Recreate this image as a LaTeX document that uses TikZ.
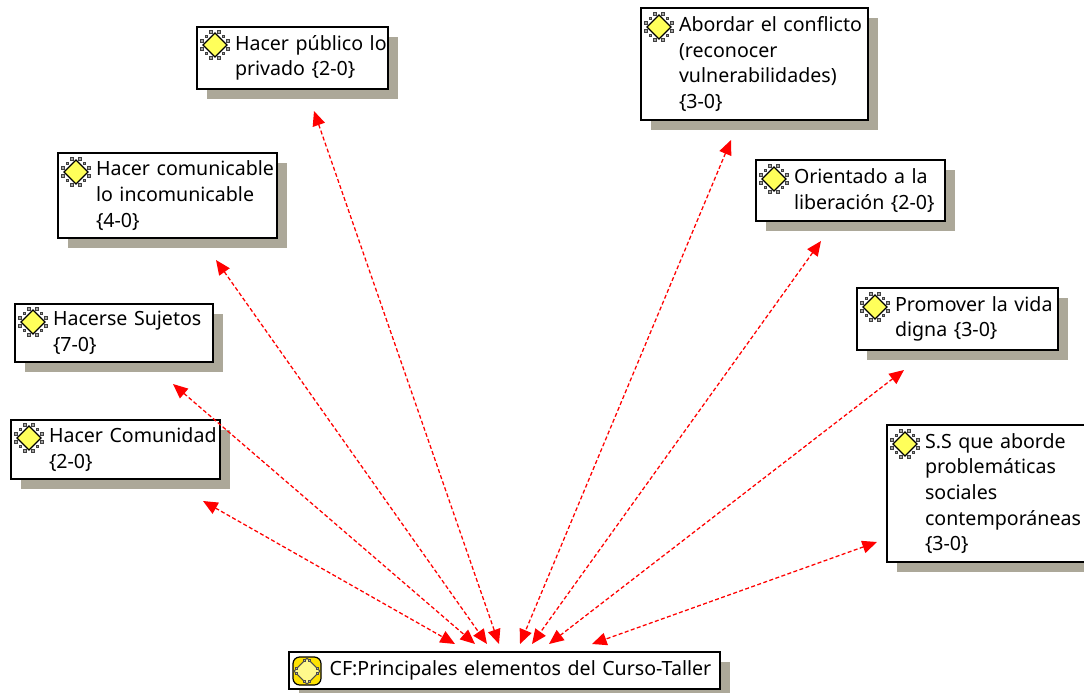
\documentclass[tikz,border=0pt]{standalone}
\usepackage{fontspec}
\setmainfont{Noto Sans}
\usepackage{tikz}
\usetikzlibrary{arrows.meta,shadows}
\definecolor{shadowgray}{RGB}{172,168,153}
\definecolor{icoyellow}{RGB}{255,255,90}
\tikzset{
  box/.style 2 args={draw=black,line width=1.4pt,fill=white,anchor=north west,inner xsep=0pt,inner ysep=0pt,outer sep=0pt,
    text width=#1*0.75pt,minimum height=#2*0.75pt,align=left,font=\fontsize{14.7pt}{19.2pt}\selectfont,
    execute at begin node={\leftskip=28.5pt},
    general shadow={fill=shadowgray,shadow xshift=7.5pt,shadow yshift=-7.5pt}},
  link/.style={draw=red,line width=0.95pt,dash pattern=on 3pt off 1.8pt,{Triangle[length=11pt,width=9.5pt]}-{Triangle[length=11pt,width=9.5pt]}},
  ico/.pic={
    \foreach \a in {45,135,225,315}{
      \foreach \s in {-6,0,6}{
        \filldraw[fill=black!35,draw=black!75,line width=0.7pt,rotate=\a] (\s,12) circle (1.9);
      }
    }
    \filldraw[fill=icoyellow,draw=black,line width=0.9pt] (0,-12) -- (12,0) -- (0,12) -- (-12,0) -- cycle;
  },
  cfico/.pic={
    \filldraw[fill=yellow!85!orange,draw=black,line width=0.9pt,rounded corners=5pt] (-14,-14) rectangle (14,14);
    \filldraw[fill=yellow!45,draw=black!70,line width=0.8pt] (0,-13) -- (13,0) -- (0,13) -- (-13,0) -- cycle;
    \foreach \a in {45,135,225,315}{
      \foreach \s in {-6,6}{
        \filldraw[fill=black!30,draw=black!70,line width=0.6pt,rotate=\a] (\s,9.2) circle (1.5);
      }
    }
  }
}
\begin{document}
\begin{tikzpicture}[x=0.75pt,y=-0.75pt]
\useasboundingbox (0,0) rectangle (1084,692);
% the boxes
\node[box={191}{62}] (publico) at (197,27) {Hacer público lo\\privado \{2-0\}};
\node[box={227}{112}] (abordar) at (641,8) {Abordar el conflicto\\(reconocer\\vulnerabilidades)\\\{3-0\}};
\node[box={219}{85}] (comunicable) at (58,153) {Hacer comunicable\\lo incomunicable\\\{4-0\}};
\node[box={189}{61}] (orientado) at (756,160) {Orientado a la\\liberación \{2-0\}};
\node[box={201}{62}] (promover) at (857,288) {Promover la vida\\digna \{3-0\}};
\node[box={198}{58}] (sujetos) at (15,304) {Hacerse Sujetos\\\{7-0\}};
\node[box={209}{59}] (comunidad) at (11,420) {Hacer Comunidad\\\{2-0\}};
\node[box={205}{137}] (ss) at (887,425) {S.S que aborde\\problemáticas\\sociales\\contemporáneas\\\{3-0\}};
\node[box={431}{37}] (cf) at (289,652) {\hspace{2pt}CF:Principales elementos del Curso-Taller};

% the icons
\pic at ([shift={(18,18)}]publico.north west) {ico};
\pic at ([shift={(18,19)}]abordar.north west) {ico};
\pic at ([shift={(18,19)}]comunicable.north west) {ico};
\pic at ([shift={(18,19)}]orientado.north west) {ico};
\pic at ([shift={(18,19)}]promover.north west) {ico};
\pic at ([shift={(18,18)}]sujetos.north west) {ico};
\pic at ([shift={(18,18)}]comunidad.north west) {ico};
\pic at ([shift={(18,19)}]ss.north west) {ico};
\pic at ([shift={(18,19)}]cf.north west) {cfico};

% the links
\draw[link] ([shift={(21.5,22)}]publico.south) -- ([shift={(-5.5,-8)}]cf.north);
\draw[link] ([shift={(48.5,22)}]comunicable.south) -- ([shift={(-17.5,-8)}]cf.north);
\draw[link] ([shift={(59,22)}]sujetos.south) -- ([shift={(-29.5,-8)}]cf.north);
\draw[link] ([shift={(87.5,22)}]comunidad.south) -- ([shift={(-49.5,-8)}]cf.north);
\draw[link] ([shift={(-23.5,20)}]abordar.south) -- ([shift={(15.5,-8)}]cf.north);
\draw[link] ([shift={(-29.5,20)}]orientado.south) -- ([shift={(27.5,-8)}]cf.north);
\draw[link] ([shift={(-53.5,20)}]promover.south) -- ([shift={(44.5,-8)}]cf.north);
\draw[link] ([shift={(-10,48.5)}]ss.west) -- ([shift={(87.5,-8)}]cf.north);
\end{tikzpicture}
\end{document}
